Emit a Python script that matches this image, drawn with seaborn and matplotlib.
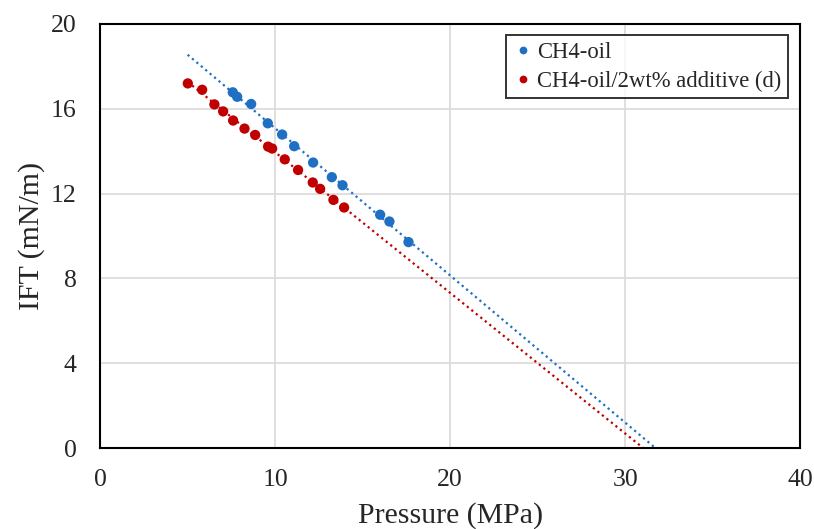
import numpy as np
import pandas as pd
import matplotlib
matplotlib.use("Agg")
import matplotlib.pyplot as plt
import seaborn as sns

# data
p_ch4 = [7.58, 7.83, 8.63, 9.58, 10.40, 11.09, 12.17, 13.24, 13.85, 16.00, 16.53, 17.62]
ift_ch4 = [16.77, 16.56, 16.22, 15.31, 14.78, 14.23, 13.46, 12.77, 12.39, 11.00, 10.68, 9.71]

p_add = [5.01, 5.83, 6.53, 7.03, 7.60, 8.25, 8.86, 9.60, 9.83, 10.55, 11.31, 12.15, 12.57, 13.33, 13.94]
ift_add = [17.19, 16.89, 16.20, 15.87, 15.44, 15.06, 14.76, 14.21, 14.12, 13.61, 13.11, 12.52, 12.22, 11.70, 11.34]

labels = ["CH4-oil", "CH4-oil/2wt% additive (d)"]
colors = ["#1F6FC5", "#C00000"]

df = pd.concat([
    pd.DataFrame({"Pressure": p_ch4, "IFT": ift_ch4, "Series": labels[0]}),
    pd.DataFrame({"Pressure": p_add, "IFT": ift_add, "Series": labels[1]}),
])

sns.set_style("white")
plt.rcParams["font.family"] = ["Liberation Serif", "DejaVu Serif"]

fig = plt.figure(figsize=(8.14, 5.29), dpi=100)
ax = fig.add_axes([0.123, 0.153, 0.860, 0.802])

# linear trendlines (Excel style, forecast to IFT = 0)
for lab, col in zip(labels, colors):
    sub = df[df["Series"] == lab]
    k, b = np.polyfit(sub["Pressure"], sub["IFT"], 1)
    xs = np.array([5.0, -b / k])
    ax.plot(xs, k * xs + b, linestyle=(0, (1, 1.6)), color=col, lw=1.6, zorder=2)

sns.scatterplot(data=df, x="Pressure", y="IFT", hue="Series", palette=colors,
                s=55, edgecolor="none", ax=ax, zorder=3)

ax.set_xlim(0, 40)
ax.set_ylim(0, 20)
ax.set_xticks([0, 10, 20, 30, 40])
ax.set_yticks([0, 4, 8, 12, 16, 20])
ax.grid(True, color="#D9D9D9", lw=1.2)
ax.set_axisbelow(True)
for s in ax.spines.values():
    s.set_color("black")
    s.set_linewidth(1.5)
ax.tick_params(axis="both", length=0, labelsize=18.5)
ax.tick_params(axis="x", pad=15)
ax.tick_params(axis="y", pad=17)
ax.set_xlabel("Pressure (MPa)", fontsize=21.5, labelpad=8)
ax.set_ylabel("IFT (mN/m)", fontsize=21.5, labelpad=4)

leg = ax.legend(loc="upper right", fontsize=16.3, frameon=True, fancybox=False,
                edgecolor="black", handlelength=0.9, handletextpad=0.2,
                borderpad=0.3, borderaxespad=0.0, labelspacing=0.35,
                markerscale=0.75, bbox_to_anchor=(0.983, 0.974))
leg.get_frame().set_linewidth(1.4)

fig.savefig("out.png", dpi=100)
